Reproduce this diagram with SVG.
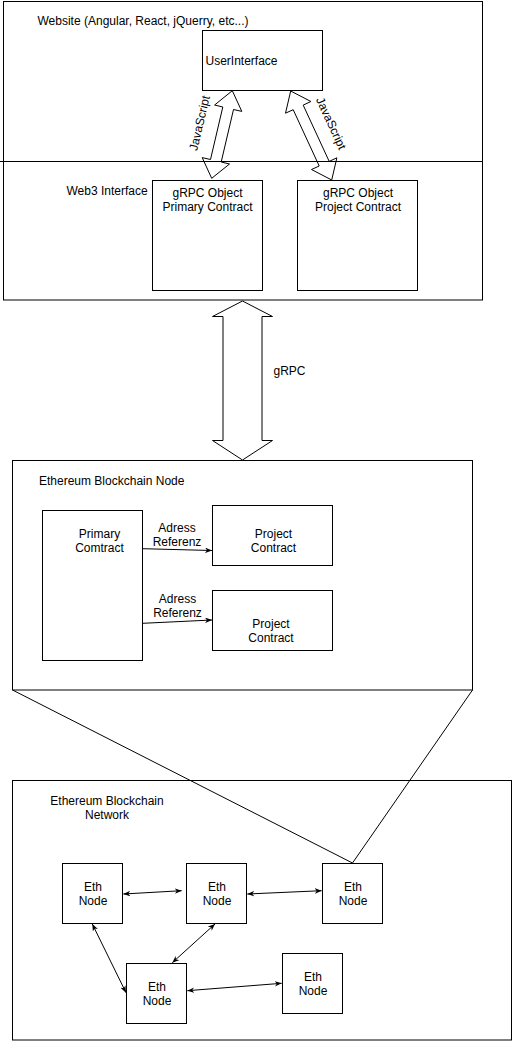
<svg xmlns="http://www.w3.org/2000/svg" width="513" height="1041" viewBox="0 0 513 1041">
<style>
.box{fill:#fff;stroke:#000;stroke-width:1}
.frame{fill:none;stroke:#000;stroke-width:1}
.t{font-family:"Liberation Sans",Arial,Helvetica,sans-serif;font-size:12px;fill:#000}
.c{text-anchor:middle}
.ln{fill:none;stroke:#000;stroke-width:1}
.blk{fill:#fff;stroke:#000;stroke-width:1;stroke-linejoin:miter}
</style>
<defs>
<marker id="ah" viewBox="0 0 10 8" refX="10" refY="4" markerWidth="7" markerHeight="5.6" markerUnits="userSpaceOnUse" orient="auto-start-reverse">
<path d="M0,0 L10,4 L0,8 L3,4 Z" fill="#000"/>
</marker>
</defs>
<rect width="513" height="1041" fill="#fff"/>

<g id="website">
<rect class="frame" x="3.5" y="1.5" width="479" height="298.5"/>
<text class="t" x="37.5" y="25">Website (Angular, React, jQuerry, etc...)</text>
</g>

<g id="web3-label">
<text class="t" x="66.5" y="194.5">Web3 Interface</text>
</g>

<g id="userinterface">
<rect class="box" x="202.5" y="30.5" width="120" height="60"/>
<text class="t" x="205.5" y="64.5">UserInterface</text>
</g>

<g id="grpc-primary">
<rect class="box" x="152.5" y="180.5" width="110" height="110"/>
<text class="t c" x="207.5" y="197">gRPC Object</text>
<text class="t c" x="207.5" y="211">Primary Contract</text>
</g>

<g id="grpc-project">
<rect class="box" x="297.5" y="180.5" width="120" height="110"/>
<text class="t c" x="358" y="197">gRPC Object</text>
<text class="t c" x="358" y="211">Project Contract</text>
</g>

<g id="eth-blockchain-node">
<rect class="frame" x="12.5" y="460.5" width="460" height="229.5"/>
<text class="t" x="39" y="484.5">Ethereum Blockchain Node</text>
</g>

<g id="primary-contract">
<rect class="box" x="42.5" y="510.5" width="100" height="150"/>
<text class="t c" x="99.5" y="537.5">Primary</text>
<text class="t c" x="99.5" y="551.5">Comtract</text>
</g>

<g id="project-contract-1">
<rect class="box" x="212.5" y="505.5" width="120" height="60"/>
<text class="t c" x="273.5" y="537.5">Project</text>
<text class="t c" x="273.5" y="551.5">Contract</text>
</g>

<g id="project-contract-2">
<rect class="box" x="212.5" y="590.5" width="120" height="60"/>
<text class="t c" x="271" y="627.5">Project</text>
<text class="t c" x="271" y="641.5">Contract</text>
</g>

<g id="eth-network">
<rect class="frame" x="12.5" y="780.5" width="499" height="259.5"/>
<text class="t c" x="107" y="805">Ethereum Blockchain</text>
<text class="t c" x="107" y="819">Network</text>
</g>

<g id="eth-node-1">
<rect class="box" x="62.5" y="863.5" width="60" height="60"/>
<text class="t c" x="93" y="890.5">Eth</text>
<text class="t c" x="93" y="904.5">Node</text>
</g>
<g id="eth-node-2">
<rect class="box" x="186.5" y="863.5" width="60" height="60"/>
<text class="t c" x="217" y="890.5">Eth</text>
<text class="t c" x="217" y="904.5">Node</text>
</g>
<g id="eth-node-3">
<rect class="box" x="322.5" y="863.5" width="60" height="60"/>
<text class="t c" x="353" y="890.5">Eth</text>
<text class="t c" x="353" y="904.5">Node</text>
</g>
<g id="eth-node-4">
<rect class="box" x="126.5" y="963.5" width="60" height="60"/>
<text class="t c" x="157" y="990.5">Eth</text>
<text class="t c" x="157" y="1004.5">Node</text>
</g>
<g id="eth-node-5">
<rect class="box" x="282.5" y="953.5" width="60" height="60"/>
<text class="t c" x="313" y="980.5">Eth</text>
<text class="t c" x="313" y="994.5">Node</text>
</g>

<g id="connectors">
<polygon class="blk" points="232.3,90.7 241.8,111.4 233.5,109.5 221.2,162 229.5,164 211.7,178.3 202.2,157.6 210.5,159.5 222.8,107 214.6,105"/>
<text class="t c" transform="translate(203.5,124) rotate(-76.8)">JavaScript</text>
<polygon class="blk" points="290.7,91 310.9,101.5 303.2,105.1 329.2,161.4 336.9,157.8 331.7,180 311.5,169.5 319.2,166 293.2,109.7 285.5,113.2"/>
<text class="t c" transform="translate(327.5,125) rotate(65.3)">JavaScript</text>
<polygon class="blk" points="242.5,301 272.5,316.5 262,316.5 262,440.5 272.5,440.5 242.5,460 212.5,440.5 223,440.5 223,316.5 212.5,316.5"/>
<text class="t" x="273.5" y="374.5">gRPC</text>

<line class="ln" x1="0" y1="161.5" x2="483" y2="161.5"/>

<line class="ln" x1="142.7" y1="548.7" x2="212" y2="550.5" marker-end="url(#ah)"/>
<text class="t c" x="177" y="532">Adress</text>
<text class="t c" x="177" y="546">Referenz</text>
<line class="ln" x1="142.7" y1="623.3" x2="212" y2="620" marker-end="url(#ah)"/>
<text class="t c" x="177.5" y="603">Adress</text>
<text class="t c" x="177.5" y="617">Referenz</text>

<line class="ln" x1="12.5" y1="690" x2="352.5" y2="863"/>
<line class="ln" x1="472.5" y1="690" x2="352.5" y2="863"/>

<line class="ln" x1="123.3" y1="894" x2="181.7" y2="890.7" marker-start="url(#ah)" marker-end="url(#ah)"/>
<line class="ln" x1="247.3" y1="894" x2="321.7" y2="890.7" marker-start="url(#ah)" marker-end="url(#ah)"/>
<line class="ln" x1="92.3" y1="924" x2="126" y2="992.7" marker-start="url(#ah)" marker-end="url(#ah)"/>
<line class="ln" x1="215" y1="924" x2="172.3" y2="962.7" marker-start="url(#ah)" marker-end="url(#ah)"/>
<line class="ln" x1="187.3" y1="990.7" x2="281.7" y2="983.3" marker-start="url(#ah)" marker-end="url(#ah)"/>
</g>
</svg>
